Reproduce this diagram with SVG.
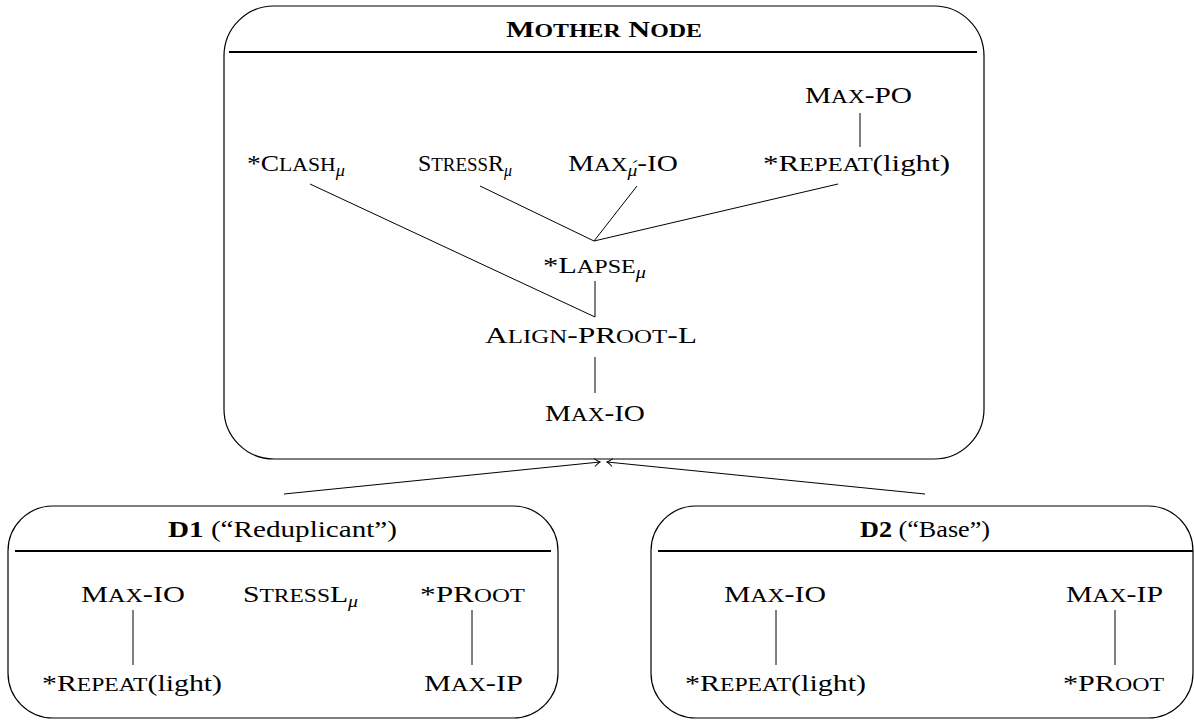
<svg xmlns="http://www.w3.org/2000/svg" width="1194" height="721" viewBox="0 0 1194 721">
  <style>
    text { font-family: "Liberation Serif", "DejaVu Serif", serif; font-size: 24px; fill: #000; }
    .sc { font-size: 19px; }
    .sub { font-size: 16px; font-style: italic; }
    .b { font-weight: bold; }
    .box { fill: #fff; stroke: #000; stroke-width: 1.2; }
    .rule { stroke: #000; stroke-width: 2; }
    .edge { stroke: #000; stroke-width: 1; fill: none; }
  </style>
  <defs>
    <marker id="tip" viewBox="-7 -5 8 10" markerWidth="8" markerHeight="10" refX="0" refY="0" orient="auto" markerUnits="userSpaceOnUse">
      <path d="M -5.5 -4 Q -2 -0.8 0 0 Q -2 0.8 -5.5 4" fill="none" stroke="#000" stroke-width="1"/>
    </marker>
  </defs>

  <rect width="1194" height="721" fill="#fff"/>

  <!-- Mother node -->
  <g id="mother">
    <rect class="box" x="224" y="6" width="760" height="453" rx="50" ry="50"/>
    <line class="rule" x1="229" y1="52" x2="977" y2="52"/>
    <text class="b" x="506" y="37" textLength="196" lengthAdjust="spacingAndGlyphs">M<tspan class="sc">OTHER</tspan> N<tspan class="sc">ODE</tspan></text>
    <g id="m-maxpo"><text x="805" y="103" textLength="107" lengthAdjust="spacingAndGlyphs">M<tspan class="sc">AX</tspan>-PO</text></g>
    <g id="m-clash"><text x="247" y="171" textLength="98" lengthAdjust="spacingAndGlyphs">*C<tspan class="sc">LASH</tspan><tspan class="sub" dy="5">μ</tspan></text></g>
    <g id="m-stressr"><text x="418" y="171" textLength="94" lengthAdjust="spacingAndGlyphs">S<tspan class="sc">TRESS</tspan>R<tspan class="sub" dy="5">μ</tspan></text></g>
    <g id="m-maxio-mu"><text x="568" y="171" textLength="110" lengthAdjust="spacingAndGlyphs">M<tspan class="sc">AX</tspan><tspan class="sub" dy="5">μ́</tspan><tspan dy="-5">-IO</tspan></text></g>
    <g id="m-repeat"><text x="763" y="171" textLength="187" lengthAdjust="spacingAndGlyphs">*R<tspan class="sc">EPEAT</tspan>(light)</text></g>
    <g id="m-lapse"><text x="543" y="273" textLength="103" lengthAdjust="spacingAndGlyphs">*L<tspan class="sc">APSE</tspan><tspan class="sub" dy="5">μ</tspan></text></g>
    <g id="m-align"><text x="485" y="343" textLength="212" lengthAdjust="spacingAndGlyphs">A<tspan class="sc">LIGN</tspan>-PR<tspan class="sc">OOT</tspan>-L</text></g>
    <g id="m-maxio"><text x="545" y="421" textLength="100" lengthAdjust="spacingAndGlyphs">M<tspan class="sc">AX</tspan>-IO</text></g>
  </g>

  <!-- Daughter D1 -->
  <g id="d1">
    <rect class="box" x="8" y="506" width="550" height="212" rx="45" ry="45"/>
    <line class="rule" x1="15" y1="551" x2="551" y2="551"/>
    <text x="168" y="537" textLength="229" lengthAdjust="spacingAndGlyphs"><tspan class="b">D1</tspan> (“Reduplicant”)</text>
    <g id="d1-maxio"><text x="81" y="602" textLength="104" lengthAdjust="spacingAndGlyphs">M<tspan class="sc">AX</tspan>-IO</text></g>
    <g id="d1-stressl"><text x="243" y="602" textLength="115" lengthAdjust="spacingAndGlyphs">S<tspan class="sc">TRESS</tspan>L<tspan class="sub" dy="5">μ</tspan></text></g>
    <g id="d1-proot"><text x="420" y="602" textLength="105" lengthAdjust="spacingAndGlyphs">*PR<tspan class="sc">OOT</tspan></text></g>
    <g id="d1-repeat"><text x="42" y="691" textLength="180" lengthAdjust="spacingAndGlyphs">*R<tspan class="sc">EPEAT</tspan>(light)</text></g>
    <g id="d1-maxip"><text x="424" y="691" textLength="99" lengthAdjust="spacingAndGlyphs">M<tspan class="sc">AX</tspan>-IP</text></g>
  </g>

  <!-- Daughter D2 -->
  <g id="d2">
    <rect class="box" x="651" y="506" width="542" height="212" rx="45" ry="45"/>
    <line class="rule" x1="658" y1="551" x2="1193" y2="551"/>
    <text x="860" y="537" textLength="130" lengthAdjust="spacingAndGlyphs"><tspan class="b">D2</tspan> (“Base”)</text>
    <g id="d2-maxio"><text x="724" y="602" textLength="102" lengthAdjust="spacingAndGlyphs">M<tspan class="sc">AX</tspan>-IO</text></g>
    <g id="d2-maxip"><text x="1066" y="602" textLength="97" lengthAdjust="spacingAndGlyphs">M<tspan class="sc">AX</tspan>-IP</text></g>
    <g id="d2-repeat"><text x="685" y="691" textLength="181" lengthAdjust="spacingAndGlyphs">*R<tspan class="sc">EPEAT</tspan>(light)</text></g>
    <g id="d2-proot"><text x="1063" y="691" textLength="101" lengthAdjust="spacingAndGlyphs">*PR<tspan class="sc">OOT</tspan></text></g>
  </g>

  <!-- Ranking lines and daughter-to-mother arrows -->
  <g id="connectors">
    <line class="edge" x1="860" y1="113" x2="860" y2="147"/>
    <line class="edge" x1="310" y1="184" x2="595" y2="317"/>
    <line class="edge" x1="480" y1="186" x2="594" y2="241"/>
    <line class="edge" x1="637" y1="186" x2="594" y2="241"/>
    <line class="edge" x1="838" y1="184" x2="594" y2="241"/>
    <line class="edge" x1="595" y1="281" x2="595" y2="317"/>
    <line class="edge" x1="595" y1="357" x2="595" y2="393"/>
    <line class="edge" x1="133" y1="610" x2="133" y2="665"/>
    <line class="edge" x1="472" y1="610" x2="472" y2="665"/>
    <line class="edge" x1="776" y1="610" x2="776" y2="665"/>
    <line class="edge" x1="1115" y1="610" x2="1115" y2="665"/>
    <line class="edge" x1="284" y1="494" x2="600" y2="462" marker-end="url(#tip)"/>
    <line class="edge" x1="925" y1="494" x2="607" y2="462" marker-end="url(#tip)"/>
  </g>
</svg>
